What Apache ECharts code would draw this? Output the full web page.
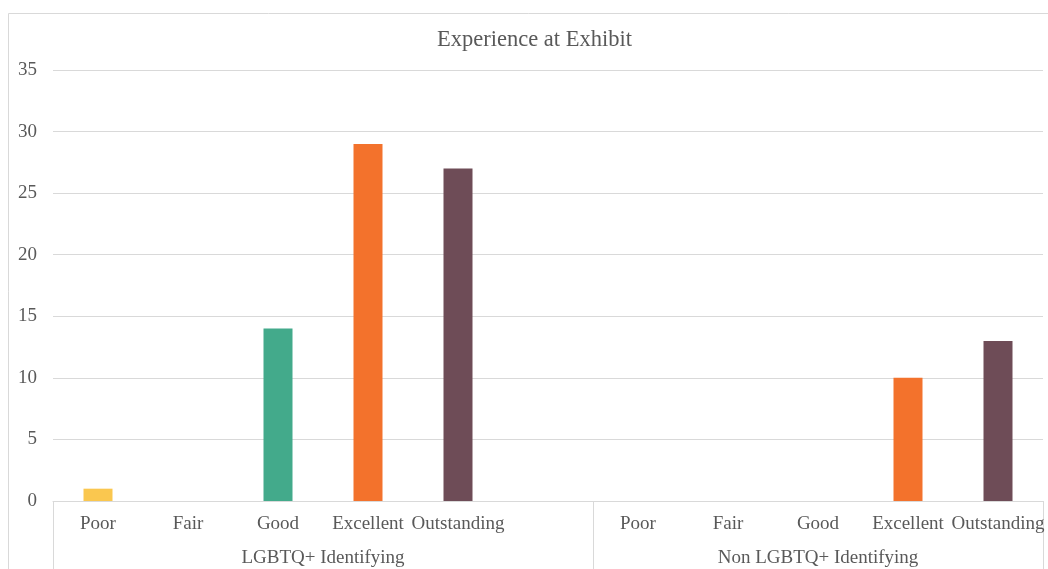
<!DOCTYPE html>
<html>
<head>
<meta charset="utf-8">
<title>Experience at Exhibit</title>
<script src="https://cdn.jsdelivr.net/npm/echarts@6/dist/echarts.min.js"></script>
<style>
  html, body { margin: 0; padding: 0; background: #ffffff; }
  #chart { width: 1048px; height: 569px; }
</style>
</head>
<body>
<div id="chart"></div>
<script>
// Rating categories, repeated for each respondent group (with a spacer slot between groups)
const ratings = ['Poor', 'Fair', 'Good', 'Excellent', 'Outstanding'];
const groups = ['LGBTQ+ Identifying', 'Non LGBTQ+ Identifying'];
const lgbtqValues = [1, 0, 14, 29, 27];
const nonLgbtqValues = [0, 0, 0, 10, 13];
const yTicks = [0, 5, 10, 15, 20, 25, 30, 35];

const ratingColors = {
  Poor: '#FAC74F',
  Fair: '#90BE6D',
  Good: '#43AA8B',
  Excellent: '#F3722C',
  Outstanding: '#6E4C57'
};

// Build the flat category list: group 1 ratings, one empty slot, group 2 ratings
const categories = ratings.concat(['']).concat(ratings);
const barData = []
  .concat(lgbtqValues.map((v, i) => ({ value: v, itemStyle: { color: ratingColors[ratings[i]] } })))
  .concat([{ value: '-' }])
  .concat(nonLgbtqValues.map((v, i) => ({ value: v, itemStyle: { color: ratingColors[ratings[i]] } })));

// Group span boundaries (in category units) and label centres
const groupBounds = [0, ratings.length + 1, categories.length];
const groupCenters = [
  (groupBounds[0] + groupBounds[1]) / 2,
  (groupBounds[1] + groupBounds[2]) / 2
];

const FONT = '"Liberation Serif", "Times New Roman", serif';
const TEXT = '#595959';
const LINE = '#D9D9D9';

const chart = echarts.init(document.getElementById('chart'), null, { renderer: 'canvas' });

chart.setOption({
  backgroundColor: '#ffffff',
  animation: false,
  title: {
    text: 'Experience at Exhibit',
    left: 437,
    top: 29,
    padding: 0,
    textStyle: { fontFamily: FONT, fontSize: 22.5, fontWeight: 'normal', color: TEXT }
  },
  graphic: [{
    type: 'rect',
    shape: { x: 8.5, y: 13.5, width: 1100, height: 620 },
    style: { fill: 'none', stroke: LINE, lineWidth: 1 },
    silent: true
  }],
  grid: { left: 53, right: 5, top: 70, bottom: 68, containLabel: false },
  xAxis: [{
    type: 'category',
    data: categories,
    position: 'bottom',
    axisLine: { show: true, lineStyle: { color: LINE, width: 1 } },
    axisTick: { show: false },
    axisLabel: { interval: 0, margin: 14, fontFamily: FONT, fontSize: 19, color: TEXT },
    splitLine: { show: false }
  }, {
    type: 'value',
    min: 0,
    max: categories.length,
    position: 'bottom',
    offset: 0,
    axisLine: { show: false },
    axisTick: {
      show: true,
      customValues: groupBounds,
      length: 70,
      lineStyle: { color: LINE, width: 1 }
    },
    axisLabel: {
      show: true,
      customValues: groupCenters,
      margin: 48,
      fontFamily: FONT,
      fontSize: 19,
      color: TEXT,
      formatter: function (v) {
        const idx = groupCenters.indexOf(v);
        return idx >= 0 ? groups[idx] : '';
      }
    },
    splitLine: { show: false }
  }],
  yAxis: {
    type: 'value',
    min: yTicks[0],
    max: yTicks[yTicks.length - 1],
    interval: yTicks[1] - yTicks[0],
    axisLine: { show: false },
    axisTick: { show: false },
    axisLabel: { margin: 16, fontFamily: FONT, fontSize: 19, color: TEXT, padding: [3, 0, 0, 0] },
    splitLine: { show: true, lineStyle: { color: LINE, width: 1 } }
  },
  series: [{
    type: 'bar',
    xAxisIndex: 0,
    barWidth: 29,
    data: barData
  }]
});
</script>
</body>
</html>
